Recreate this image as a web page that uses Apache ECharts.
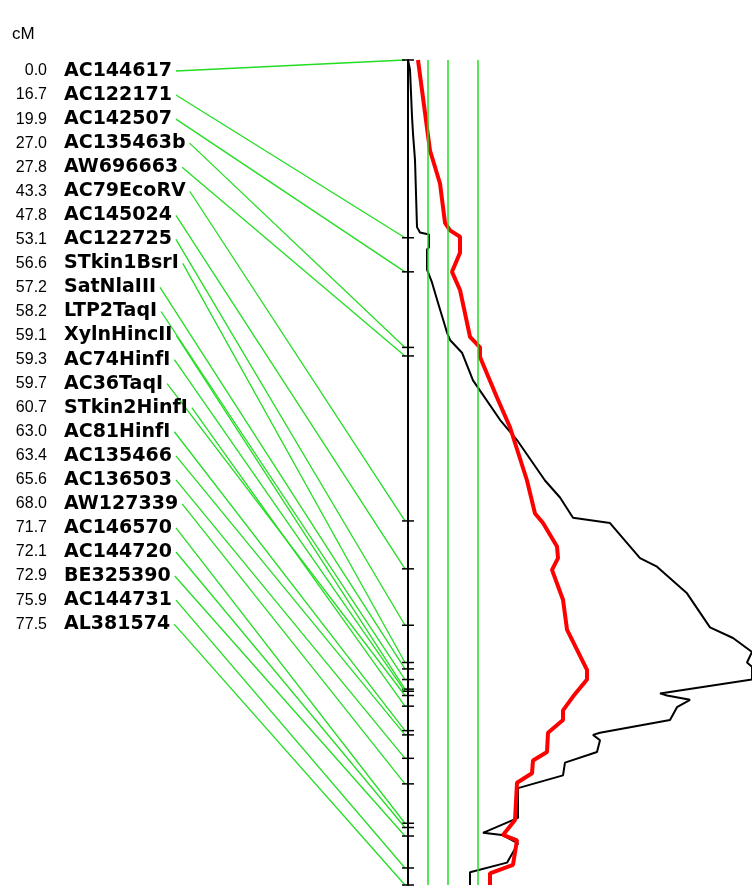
<!DOCTYPE html>
<html>
<head>
<meta charset="utf-8">
<script src="https://cdn.jsdelivr.net/npm/echarts@6/dist/echarts.min.js"></script>
<style>html,body{margin:0;padding:0;background:#fff}#chart{width:752px;height:890px}</style>
</head>
<body>
<div id="chart"></div>
<script>
// marker map
var markerNames = ['AC144617','AC122171','AC142507','AC135463b','AW696663','AC79EcoRV','AC145024','AC122725',
  'STkin1BsrI','SatNlaIII','LTP2TaqI','XylnHincII','AC74HinfI','AC36TaqI','STkin2HinfI','AC81HinfI',
  'AC135466','AC136503','AW127339','AC146570','AC144720','BE325390','AC144731','AL381574'];
var markerPos = [0.0,16.7,19.9,27.0,27.8,43.3,47.8,53.1,56.6,57.2,58.2,59.1,59.3,59.7,60.7,63.0,
  63.4,65.6,68.0,71.7,72.1,72.9,75.9,77.5];

// thresholds
var thresholds = [1.0, 2.0, 3.5];

// profiles: [cM, LOD]
var blackCurve = [[0,0],[0.9,0.1],[5.3,0.2],[6.9,0.25],[9.4,0.35],[15.7,0.45],[16.2,0.6],[16.4,1.05],
  [17.6,1.05],[17.8,0.95],[19.7,0.95],[20.9,1.2],[22.5,1.45],[25.6,1.95],[26.3,2.1],[27.5,2.7],[30.1,3.25],
  [33.8,4.6],[35.7,5.45],[39.5,6.85],[41.1,7.6],[43.0,8.25],[43.5,10.1],[46.8,11.6],[47.6,12.45],[50.1,13.95],
  [53.3,15.1],[54.3,16.25],[55.6,17.2],[56.6,16.95],[57.0,17.2],[58.2,17.2],[59.5,12.6],[59.7,12.95],
  [60.1,14.1],[60.8,13.45],[62.0,13.1],[63.2,9.6],[63.4,9.25],[63.9,9.6],[65.0,9.45],[66.0,7.85],[67.2,7.75],
  [68.4,5.5],[71.2,5.5],[72.6,3.75],[72.8,4.7],[73.6,5.5],[75.4,4.95],[76.3,3.1],[77.5,3.1]];
var redCurve = [[0,0.5],[8.5,1.1],[11.6,1.6],[15.3,1.85],[16.0,2.1],[16.6,2.6],[18.1,2.6],[19.9,2.2],
  [21.6,2.6],[26.0,3.1],[27.0,3.6],[27.9,3.6],[31.7,4.45],[34.5,5.1],[39.5,5.95],[42.6,6.35],[43.5,6.75],
  [45.7,7.45],[46.8,7.5],[47.9,7.2],[50.7,7.75],[53.5,7.95],[57.3,8.95],[58.2,8.95],[59.8,8.25],[61.1,7.75],
  [62.0,7.75],[63.2,7.0],[65.0,6.95],[65.8,6.25],[67.0,6.2],[67.9,5.45],[71.4,5.35],[72.8,4.75],[73.3,5.45],
  [75.6,5.25],[76.4,4.1],[77.5,4.1]];

var nameFont = 'bold 19px "DejaVu Sans"';
var ctx = document.createElement('canvas').getContext('2d');
ctx.font = nameFont;

var chart = echarts.init(document.getElementById('chart'));
chart.setOption({
  animation: false,
  grid: { left: 408, right: 0, top: 60, bottom: 5 },
  xAxis: { type: 'value', min: 0, max: 17.2, show: false },
  yAxis: {
    type: 'value', min: 0, max: 77.5, inverse: true,
    axisLine: { show: true, lineStyle: { color: '#000', width: 2 } },
    axisTick: { show: false }, axisLabel: { show: false }, splitLine: { show: false }
  },
  graphic: [{ type: 'text', left: 12, top: 26, style: { text: 'cM', font: '17px "Liberation Sans"', fill: '#000' } }],
  series: [
    {
      type: 'line', data: [], silent: true,
      markLine: {
        symbol: 'none', silent: true, label: { show: false },
        lineStyle: { color: '#22dd22', width: 1.5, type: 'solid' },
        data: thresholds.map(function (t) { return { xAxis: t }; })
      }
    },
    {
      type: 'custom', clip: false, silent: true,
      data: markerPos.map(function (p, i) { return [0, p, i]; }),
      renderItem: function (params, api) {
        var i = api.value(2);
        var p = api.coord([0, api.value(1)]);
        var rowY = 71 + i * 24.05;
        var w = ctx.measureText(markerNames[i]).width;
        return {
          type: 'group',
          children: [
            { type: 'text', style: { text: markerPos[i].toFixed(1), x: 47, y: rowY, align: 'right', verticalAlign: 'middle', font: '16px "Liberation Sans"', fill: '#000' } },
            { type: 'text', style: { text: markerNames[i], x: 64, y: rowY, align: 'left', verticalAlign: 'middle', font: nameFont, fill: '#000' } },
            { type: 'line', shape: { x1: 64 + w + 4, y1: rowY, x2: p[0] - 3, y2: p[1] }, style: { stroke: '#22dd22', lineWidth: 1.3 } },
            { type: 'line', shape: { x1: p[0] - 6, y1: p[1], x2: p[0] + 6, y2: p[1] }, style: { stroke: '#000', lineWidth: 1.5 } }
          ]
        };
      }
    },
    {
      type: 'line', data: blackCurve.map(function (d) { return [d[1], d[0]]; }),
      showSymbol: false, clip: false, lineStyle: { color: '#000', width: 2 }
    },
    {
      type: 'line', data: redCurve.map(function (d) { return [d[1], d[0]]; }),
      showSymbol: false, clip: false, lineStyle: { color: '#ff0000', width: 4 }
    }
  ]
});
</script>
</body>
</html>
